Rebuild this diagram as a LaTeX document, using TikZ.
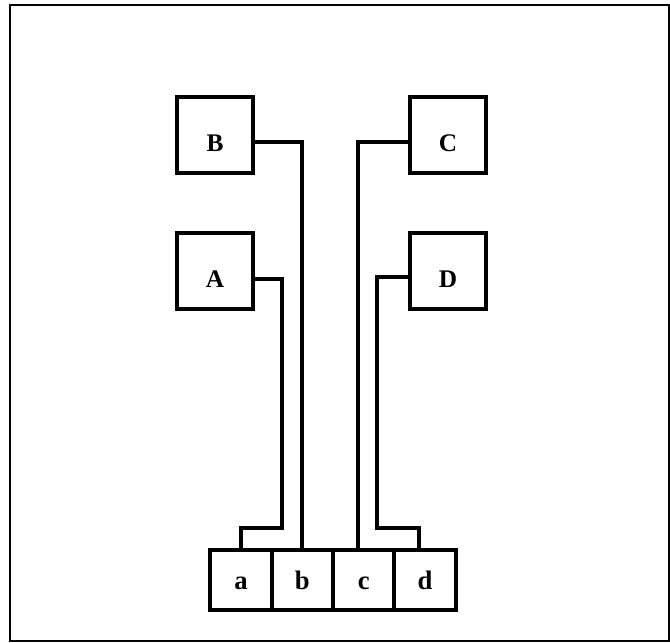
\documentclass[tikz,border=0pt]{standalone}
\usepackage{fontspec}
\setmainfont{Liberation Serif}
\usetikzlibrary{positioning, calc}

\begin{document}
\begin{tikzpicture}[
  x=0.75pt, y=-0.75pt,
  bigbox/.style={rectangle, draw, line width=3pt, minimum size=57pt, inner sep=0pt,
    outer sep=0pt, font=\fontsize{19}{19}\selectfont\bfseries, text height=25pt, text depth=0pt},
  pinbox/.style={rectangle, draw, line width=3pt, minimum width=46pt, minimum height=45pt,
    inner sep=0pt, outer sep=0pt, font=\fontsize{20}{20}\selectfont\bfseries,
    text height=13.5pt, text depth=0pt},
  wire/.style={line width=3pt}
]
\useasboundingbox (0,0) rectangle (670,642);
\draw[line width=2pt] (10,5) rectangle (669,641);
\node[bigbox] (B) at (215,135) {B};
\node[bigbox] (A) at (215,271) {A};
\node[bigbox] (C) at (448,135) {C};
\node[bigbox] (D) at (448,271) {D};
\node[pinbox] (a) at (241,580) {a};
\node[pinbox, right=0pt of a] (b) {b};
\node[pinbox, right=0pt of b] (c) {c};
\node[pinbox, right=0pt of c] (d) {d};
\coordinate (abend) at (282,528);
\coordinate (dbend) at (377,528);
\draw[wire] ([yshift=-5.5pt]B.east) -| (b.north);
\draw[wire] ([yshift=-6pt]A.east) -| (abend) -| (a.north);
\draw[wire] ([yshift=-5.5pt]C.west) -| ([xshift=-4.5pt]c.north);
\draw[wire] ([yshift=-4.5pt]D.west) -| (dbend) -| ([xshift=-4.5pt]d.north);
\end{tikzpicture}
\end{document}
